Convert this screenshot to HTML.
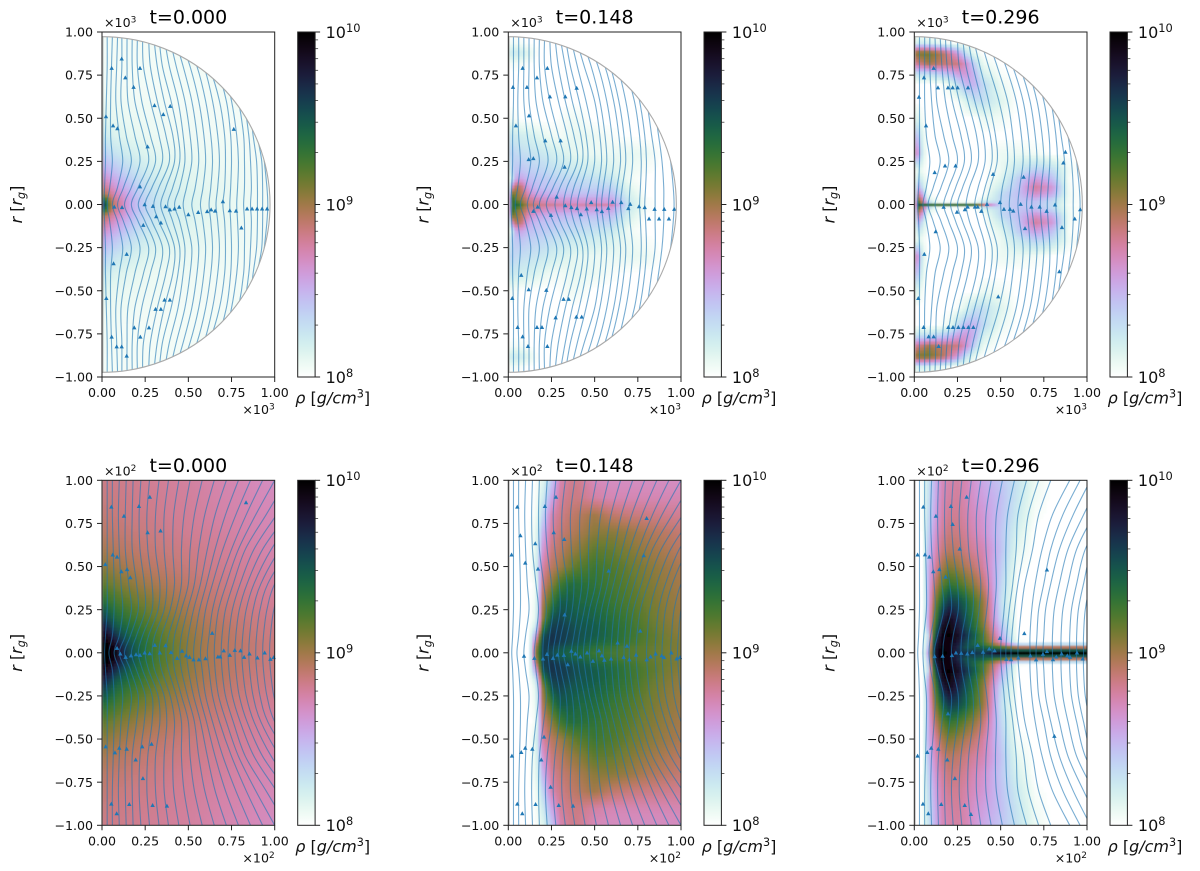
<!DOCTYPE html>
<html lang="en">
<head>
<meta charset="utf-8">
<title>Density panels</title>
<style>
html,body{margin:0;padding:0;background:#fff;}
svg{display:block;font-family:"DejaVu Sans","Liberation Sans",sans-serif;filter:blur(0.3px);}
</style>
</head>
<body>
<svg id="figure" xmlns="http://www.w3.org/2000/svg" width="1200" height="871" viewBox="0 0 1200 871">
<rect x="0" y="0" width="1200" height="871" fill="#fff"/>
<defs id="defs"><filter id="soft" x="-5%" y="-5%" width="110%" height="110%"><feGaussianBlur stdDeviation="0.7"/></filter></defs>
</svg>
<script>
// Tick values and labels
const xTickValues = [0, 0.25, 0.5, 0.75, 1];
const xTickLabels = ['0.00', '0.25', '0.50', '0.75', '1.00'];
const yTickValues = [-1, -0.75, -0.5, -0.25, 0, 0.25, 0.5, 0.75, 1];
const yTickLabels = ['\u22121.00', '\u22120.75', '\u22120.50', '\u22120.25', '0.00', '0.25', '0.50', '0.75', '1.00'];
const cbarDecades = [8, 9, 10];
const cbarMinorMultipliers = [2, 3, 4, 5, 6, 7, 8, 9];
const panelTimes = ['t=0.000', 't=0.148', 't=0.296'];
const rowExponents = ['3', '2'];

// Density grid coordinates (data units); upper half, mirrored about the midplane
const gridX = [0, .02, .05, .08, .12, .16, .2, .25, .3, .35, .4, .5, .6, .7, .8, .9, 1];
const gridYTop = [0, .012, .03, .06, .1, .15, .2, .3, .4, .5, .6, .7, .76, .82, .88, .94, 1];
const gridYBottom = [0, .03, .06, .1, .15, .2, .3, .4, .5, .6, .7, .8, .9, 1];

// Density: value n means log10(rho) = 8 + n/100
const rhoTop0 = [
[190,150,100,85,70,55,45,35,28,24,20,15,12,10,8,6,5],
[175,145,98,84,70,55,45,35,28,24,20,15,12,10,8,6,5],
[150,130,95,80,68,55,45,35,28,24,20,15,12,10,8,6,5],
[100,95,80,72,62,52,42,33,27,23,20,15,12,10,8,6,5],
[85,80,70,62,53,46,38,30,25,22,18,14,11,10,8,6,5],
[70,65,58,52,45,38,32,26,22,19,16,13,10,9,7,6,5],
[55,52,46,42,36,31,27,22,18,16,14,12,10,8,7,6,5],
[38,35,30,27,23,20,17,14,12,11,10,9,8,7,6,5,5],
[25,22,18,15,13,11,10,9,8,8,7,7,6,6,5,5,5],
[15,13,11,10,9,8,8,7,7,7,6,6,6,5,5,5,5],
[9,8,8,7,7,7,6,6,6,6,5,5,5,5,5,5,5],
[6,6,6,6,5,5,5,5,5,5,5,5,5,5,5,5,5],
[6,6,6,5,5,5,5,5,5,5,5,5,5,5,5,5,5],
[6,6,6,5,5,5,5,5,5,5,5,5,5,5,5,5,5],
[5,5,5,5,5,5,5,5,5,5,5,5,5,5,5,5,5],
[5,5,5,5,5,5,5,5,5,5,5,5,5,5,5,5,5],
[5,5,5,5,5,5,5,5,5,5,5,5,5,5,5,5,5]];
const rhoTop148 = [
[0,125,140,115,90,85,80,78,75,72,72,75,72,25,3,0,0],
[0,130,130,108,85,80,75,70,68,66,65,62,60,24,3,0,0],
[0,135,110,100,80,75,68,65,62,60,60,58,55,22,3,0,0],
[0,115,105,92,68,58,55,50,48,46,45,45,44,18,0,0,0],
[0,70,100,85,55,47,44,42,40,38,37,36,35,12,0,0,0],
[0,20,60,55,45,42,40,37,34,32,30,28,24,6,0,0,0],
[10,35,42,42,38,36,34,30,27,25,22,20,15,8,3,0,0],
[30,35,32,30,28,26,24,20,16,13,10,8,8,10,8,0,0],
[24,24,22,20,18,14,10,6,5,8,10,8,3,0,0,0,0],
[5,5,3,0,0,0,0,0,2,6,6,0,0,0,0,0,0],
[0,0,0,0,0,0,0,0,0,0,0,0,0,0,0,0,0],
[0,0,0,0,0,0,0,0,0,0,0,0,0,0,0,0,0],
[0,0,0,0,0,0,0,0,0,0,0,0,0,0,0,0,0],
[3,5,5,4,2,0,0,0,0,0,0,0,0,0,0,0,0],
[18,22,22,20,12,3,0,0,0,0,0,0,0,0,0,0,0],
[4,5,5,3,0,0,0,0,0,0,0,0,0,0,0,0,0],
[0,0,0,0,0,0,0,0,0,0,0,0,0,0,0,0,0]];
const rhoTop296 = [
[0,150,140,135,130,130,130,130,130,125,85,35,42,42,30,3,0],
[0,135,85,45,10,5,5,5,5,5,30,35,42,42,30,5,0],
[0,110,75,15,5,0,0,0,0,0,10,32,42,48,35,4,0],
[0,85,50,5,0,0,0,0,0,0,0,32,44,65,52,5,0],
[0,60,25,0,0,0,0,0,0,0,0,22,42,78,62,3,0],
[0,30,15,0,0,0,0,0,0,0,0,12,38,60,45,2,0],
[0,15,5,0,0,0,0,0,0,0,0,8,25,38,32,5,0],
[60,70,15,0,0,0,0,0,0,0,0,8,8,5,0,0,0],
[40,45,10,0,0,0,0,0,0,0,0,0,0,0,0,0,0],
[15,15,3,0,0,0,0,0,0,0,8,6,0,0,0,0,0],
[0,0,0,0,0,0,0,3,15,28,30,14,0,0,0,0,0],
[0,0,0,0,0,3,8,30,48,50,32,8,0,0,0,0,0],
[25,30,30,30,35,40,45,58,62,48,18,3,0,0,0,0,0],
[75,85,90,100,95,90,88,85,65,35,8,0,0,0,0,0,0],
[100,110,112,112,105,95,80,60,28,8,0,0,0,0,0,0,0],
[15,18,18,16,12,8,4,0,0,0,0,0,0,0,0,0,0],
[0,0,0,0,0,0,0,0,0,0,0,0,0,0,0,0,0]];
const rhoBottom0 = [
[200,200,198,190,170,155,145,135,127,120,115,105,98,93,90,87,85],
[200,200,196,188,168,154,144,134,126,120,115,105,98,93,90,87,85],
[198,198,192,180,162,150,142,133,125,119,114,105,98,93,90,87,85],
[190,188,178,165,152,143,137,130,123,117,112,104,97,93,89,86,84],
[175,172,162,150,142,136,131,125,119,114,110,102,96,92,88,85,83],
[160,157,148,140,134,129,125,120,115,110,107,100,94,90,87,84,82],
[135,133,128,124,120,117,113,110,107,103,100,95,90,87,84,81,79],
[118,116,113,111,108,106,103,100,98,96,94,90,87,84,81,79,77],
[106,105,103,101,99,97,95,93,91,90,88,86,83,81,79,77,75],
[98,97,95,94,92,91,90,88,87,86,85,83,81,79,77,75,73],
[92,91,90,89,88,87,86,85,84,83,82,80,79,77,75,73,72],
[88,88,87,86,85,84,83,83,82,81,80,79,77,75,74,72,71],
[85,85,85,84,83,83,82,81,81,80,79,78,76,74,73,71,70],
[83,83,83,82,82,81,81,80,79,79,78,77,75,73,72,70,68]];
const rhoBottom148 = [
[0,0,0,0,0,105,160,155,145,142,140,128,124,120,116,112,108],
[0,0,0,0,0,100,160,158,150,145,142,132,126,120,116,112,108],
[0,0,0,0,0,85,158,165,160,155,150,140,134,126,118,113,108],
[0,0,0,0,0,60,150,165,162,158,152,146,138,128,120,112,106],
[0,0,0,0,0,25,125,160,160,156,150,146,136,128,118,110,104],
[0,0,0,0,0,12,105,150,157,150,147,143,134,126,116,108,103],
[0,0,0,0,0,8,95,125,145,145,140,136,128,121,113,106,101],
[0,0,0,0,0,5,85,105,125,135,135,131,124,118,110,104,99],
[0,0,0,0,0,15,75,92,100,110,118,126,121,114,107,102,97],
[0,0,0,0,0,12,62,85,92,100,105,117,115,108,102,97,92],
[0,0,0,0,0,10,50,78,87,92,97,106,106,102,96,92,88],
[0,0,0,0,0,5,35,72,82,88,92,100,90,86,84,82,80],
[0,0,0,0,0,3,22,55,78,83,84,76,72,72,72,72,72],
[0,0,0,0,0,2,12,40,72,80,82,70,68,68,68,68,68]];
const rhoBottom296 = [
[0,0,3,55,180,200,195,170,165,165,160,190,200,200,200,200,200],
[0,0,0,45,178,198,192,170,150,150,145,130,110,110,110,110,110],
[0,0,0,38,170,196,194,178,155,138,122,70,5,0,0,0,0],
[0,0,0,30,150,195,198,185,165,145,120,55,0,0,0,0,0],
[0,0,0,50,130,185,195,178,155,135,110,45,0,0,0,0,0],
[0,0,0,55,118,170,188,172,150,130,105,35,0,0,0,0,0],
[0,0,0,50,105,140,160,155,140,122,103,30,0,0,0,0,0],
[0,0,0,50,90,115,130,125,113,103,88,35,0,0,0,0,0],
[0,0,0,50,75,98,108,103,95,88,76,40,4,0,0,0,0],
[0,0,0,42,68,85,92,90,84,77,72,44,10,0,0,0,0],
[0,0,2,35,62,78,85,84,78,71,65,42,16,0,0,0,0],
[0,0,2,30,56,74,80,80,74,68,62,44,22,3,0,0,0],
[0,0,3,27,52,72,76,78,72,64,58,45,25,6,0,0,0],
[0,0,3,25,50,70,74,76,72,62,54,42,27,8,0,0,0]];

// Streamlines: x at each height in the level arrays (upper half, mirrored)
const streamLevelsTop = [0, .1, .25, .4, .6, .8, .97];
const streamLevelsBottom = [0, .1, .25, .4, .6, .8, 1];
const linesTop0 = [
[.012,.015,.02,.02,.025,.03,.03],[.03,.045,.06,.05,.05,.055,.06],[.06,.09,.12,.10,.08,.085,.09],
[.09,.125,.17,.14,.11,.115,.115],[.13,.17,.22,.19,.15,.145,.145],[.17,.21,.27,.24,.19,.175,.175],
[.21,.25,.31,.28,.23,.205,.205],[.25,.29,.35,.33,.28,.24,.235],[.30,.33,.39,.37,.32,.28,.27],
[.34,.37,.42,.41,.36,.32,.30],[.38,.41,.45,.44,.40,.35,.33],[.42,.45,.48,.47,.44,.39,.36],
[.47,.49,.52,.51,.48,.43,.39],[.52,.54,.56,.55,.52,.47,.42],[.57,.585,.60,.59,.56,.51,.45],
[.62,.63,.64,.63,.60,.55,.48],[.66,.67,.68,.67,.64,.59,.51],[.70,.71,.715,.71,.68,.62,.54],
[.74,.745,.75,.745,.72,.66,.57],[.78,.785,.79,.78,.75,.70,.60],[.82,.825,.825,.82,.79,.74,.63],
[.86,.865,.86,.85,.82,.77,.66],[.90,.90,.895,.875,.85,.80,.69],[.93,.93,.925,.90,.88,.83,.72],
[.96,.955,.94,.925,.90,.86,.75]];
const linesTop148 = [
[.015,.02,.025,.025,.03,.03,.03],[.04,.055,.07,.06,.055,.06,.06],[.07,.10,.13,.11,.09,.09,.09],
[.11,.14,.18,.15,.12,.12,.12],[.145,.18,.23,.20,.16,.15,.15],[.18,.22,.28,.25,.20,.18,.18],
[.22,.26,.32,.29,.24,.21,.21],[.27,.30,.36,.34,.29,.25,.24],[.32,.34,.40,.38,.33,.29,.27],
[.36,.38,.43,.42,.37,.33,.30],[.40,.42,.46,.45,.41,.36,.33],[.45,.47,.50,.49,.45,.40,.36],
[.51,.52,.54,.53,.50,.44,.39],[.54,.55,.57,.56,.53,.48,.42],[.58,.59,.61,.60,.57,.52,.45],
[.62,.63,.65,.64,.61,.56,.49],[.65,.66,.68,.67,.64,.59,.52],[.70,.705,.72,.71,.68,.63,.55],
[.76,.765,.77,.76,.73,.67,.58],[.79,.795,.80,.79,.76,.71,.61],[.85,.85,.85,.83,.80,.75,.64],
[.90,.90,.89,.87,.84,.79,.68],[.96,.955,.94,.92,.89,.84,.73]];
const linesTop296 = [
[.02,.025,.03,.03,.03,.03,.03],[.05,.07,.09,.07,.06,.06,.06],[.08,.11,.15,.12,.10,.09,.09],
[.12,.155,.20,.17,.13,.125,.12],[.17,.20,.25,.22,.18,.16,.15],[.21,.24,.29,.27,.22,.19,.18],
[.25,.28,.33,.31,.26,.22,.21],[.30,.32,.37,.36,.31,.26,.25],[.35,.37,.41,.40,.35,.30,.28],
[.39,.41,.45,.44,.39,.34,.31],[.42,.44,.48,.47,.43,.38,.34],[.50,.51,.54,.53,.49,.43,.38],
[.55,.56,.58,.57,.54,.48,.42],[.60,.61,.63,.62,.59,.53,.46],[.65,.66,.67,.66,.63,.57,.50],
[.68,.69,.71,.70,.67,.61,.53],[.73,.735,.75,.74,.71,.65,.56],[.77,.775,.785,.78,.75,.69,.60],
[.82,.825,.83,.82,.79,.73,.63],[.87,.87,.87,.85,.82,.77,.67],[.92,.92,.91,.89,.86,.81,.71],
[.96,.955,.94,.925,.90,.85,.75]];
const linesBottom0 = [
[.015,.02,.03,.03,.03,.03,.03],[.04,.06,.07,.07,.065,.06,.06],[.07,.10,.12,.11,.10,.095,.10],
[.10,.135,.17,.155,.135,.135,.14],[.13,.165,.21,.20,.175,.175,.18],[.17,.20,.25,.245,.22,.215,.225],
[.21,.235,.29,.29,.265,.26,.275],[.25,.27,.325,.335,.31,.31,.33],[.29,.305,.36,.375,.36,.36,.385],
[.33,.345,.395,.42,.41,.415,.445],[.37,.385,.43,.46,.46,.475,.51],[.41,.42,.46,.50,.51,.535,.58],
[.45,.46,.495,.535,.56,.595,.65],[.49,.50,.53,.57,.61,.655,.72],[.53,.54,.565,.605,.655,.715,.79],
[.57,.58,.60,.64,.70,.775,.86],[.61,.62,.64,.68,.75,.835,.93],[.65,.655,.675,.72,.79,.89,1.0],
[.69,.695,.715,.76,.83,.95,1.07],[.73,.735,.755,.80,.88,1.01,1.14],[.77,.775,.795,.84,.93,1.07,1.2],
[.81,.815,.835,.88,.98,1.12,1.25],[.85,.855,.875,.92,1.03,1.18,1.3],[.89,.895,.915,.96,1.08,1.22,1.35],
[.93,.935,.955,1.0,1.12,1.27,1.4],[.97,.975,.995,1.04,1.17,1.32,1.45]];
const linesBottom148 = [
[.02,.025,.03,.03,.03,.03,.03],[.05,.06,.07,.07,.065,.06,.06],[.09,.10,.12,.11,.10,.095,.10],
[.15,.16,.175,.16,.14,.135,.14],[.20,.205,.22,.205,.18,.175,.18],[.23,.24,.26,.25,.225,.215,.225],
[.26,.275,.30,.295,.27,.26,.275],[.29,.305,.335,.34,.315,.31,.33],[.32,.34,.37,.38,.365,.36,.385],
[.365,.38,.405,.425,.415,.415,.445],[.40,.41,.44,.465,.465,.475,.51],[.435,.445,.47,.505,.515,.535,.58],
[.47,.48,.505,.54,.565,.595,.65],[.51,.52,.54,.575,.615,.655,.72],[.55,.56,.575,.61,.66,.715,.79],
[.595,.60,.615,.65,.705,.775,.86],[.63,.635,.65,.69,.755,.835,.93],[.67,.675,.69,.73,.795,.89,1.0],
[.70,.705,.725,.77,.835,.95,1.07],[.74,.745,.765,.81,.885,1.01,1.14],[.80,.805,.82,.86,.94,1.07,1.2],
[.85,.855,.87,.91,.99,1.12,1.25],[.89,.895,.91,.95,1.04,1.18,1.3],[.94,.945,.96,1.0,1.09,1.22,1.35],
[.98,.985,1.0,1.04,1.14,1.27,1.4]];
const linesBottom296 = [
[.02,.025,.03,.03,.03,.03,.03],[.05,.055,.07,.07,.065,.06,.06],[.085,.095,.12,.115,.10,.095,.10],
[.115,.135,.17,.16,.14,.135,.14],[.165,.175,.215,.205,.18,.175,.18],[.215,.225,.255,.25,.225,.215,.225],
[.27,.275,.30,.295,.27,.26,.275],[.31,.315,.34,.34,.315,.31,.33],[.35,.355,.375,.385,.365,.36,.385],
[.40,.40,.42,.43,.415,.415,.445],[.45,.455,.465,.475,.47,.475,.51],[.50,.505,.52,.53,.53,.54,.58],
[.53,.535,.55,.57,.59,.60,.65],[.56,.565,.58,.60,.635,.66,.72],[.60,.605,.62,.64,.685,.72,.79],
[.67,.67,.68,.70,.74,.80,.90],[.705,.71,.72,.75,.79,.86,.96],[.745,.75,.76,.79,.84,.92,1.02],
[.80,.80,.81,.84,.89,.98,1.08],[.85,.85,.86,.89,.94,1.04,1.16],[.90,.90,.91,.94,.99,1.10,1.22],
[.94,.94,.95,.98,1.03,1.15,1.28],[.98,.98,.99,1.02,1.08,1.2,1.33]];

// Streamline arrowheads: [x, y] in data units
const arrowsTop0 = [[.056,.79],[.114,.845],[.135,.735],[.22,.79],[.183,.68],[.023,.51],[.064,.457],[.089,.44],[.304,.574],[.395,.57],[.355,.522],[.264,.335],[.763,.437],[.22,.103],[.247,0],[.071,-.014],[.116,-.017],[.295,-.01],[.368,-.012],[.393,-.03],[.42,-.025],[.447,-.015],[.314,-.07],[.341,-.106],[.239,-.12],[.5,-.058],[.557,-.045],[.609,-.04],[.632,-.03],[.655,-.037],[.70,.017],[.74,-.035],[.776,-.037],[.807,-.135],[.84,-.025],[.869,-.025],[.898,-.025],[.927,-.025],[.956,-.025],[.143,-.288],[.067,-.342],[.025,-.544],[.362,-.553],[.393,-.553],[.31,-.607],[.341,-.607],[.187,-.714],[.272,-.714],[.056,-.768],[.222,-.768],[.085,-.824],[.114,-.824],[.143,-.878]];
const arrowsTop148 = [[.083,.79],[.226,.79],[.166,.735],[.027,.68],[.108,.68],[.396,.675],[.241,.625],[.33,.625],[.12,.515],[.044,.457],[.214,.37],[.303,.37],[.118,.261],[.145,.267],[.326,.217],[.28,.044],[.48,.012],[.604,.014],[.654,.012],[.706,.002],[.695,-.023],[.145,-.039],[.17,-.014],[.33,-.006],[.365,-.017],[.398,-.023],[.454,-.025],[.512,-.029],[.542,-.04],[.579,-.021],[.757,-.012],[.79,-.017],[.847,-.027],[.903,-.027],[.961,-.027],[.815,-.083],[.873,-.083],[.93,-.083],[.247,-.062],[.42,-.058],[.075,-.41],[.118,-.493],[.22,-.497],[.023,-.544],[.32,-.549],[.35,-.549],[.274,-.656],[.394,-.652],[.425,-.652],[.054,-.712],[.166,-.712],[.195,-.712],[.083,-.766],[.114,-.822],[.226,-.822]];
const arrowsTop296 = [[.112,.79],[.056,.735],[.137,.677],[.195,.677],[.222,.677],[.251,.677],[.311,.677],[.027,.623],[.068,.457],[.875,.304],[.863,.242],[.178,.224],[.239,.224],[.118,.186],[.456,.176],[.633,.159],[.421,.002],[.496,.012],[.616,.002],[.815,-.002],[.17,-.015],[.309,-.014],[.293,-.029],[.247,-.044],[.351,-.014],[.367,-.014],[.388,-.039],[.519,-.027],[.554,-.027],[.573,-.037],[.678,-.014],[.726,-.014],[.766,-.039],[.961,-.029],[.929,-.083],[.855,-.133],[.641,-.139],[.124,-.157],[.058,-.288],[.84,-.389],[.023,-.544],[.486,-.534],[.054,-.712],[.197,-.712],[.224,-.712],[.255,-.712],[.284,-.712],[.313,-.712],[.342,-.712],[.083,-.766],[.112,-.766],[.141,-.822]];
const arrowsBottom0 = [[.054,.846],[.127,.793],[.214,.849],[.277,.903],[.834,.871],[.264,.697],[.339,.707],[.062,.568],[.087,.556],[.019,.512],[.145,.483],[.112,.471],[.164,.436],[.638,.114],[.087,.027],[.106,-.006],[.137,-.025],[.168,-.017],[.197,-.01],[.22,-.014],[.247,0],[.276,-.004],[.306,.044],[.335,0],[.368,.042],[.399,.002],[.435,-.031],[.464,.01],[.487,-.017],[.507,-.025],[.53,-.04],[.561,-.04],[.599,-.033],[.671,-.023],[.684,-.023],[.705,.012],[.74,-.014],[.769,.015],[.802,.012],[.823,-.025],[.854,-.006],[.9,-.029],[.942,0],[.975,-.037],[.994,-.027],[.021,-.544],[.075,-.579],[.1,-.552],[.143,-.558],[.233,-.544],[.287,-.529],[.195,-.62],[.237,-.728],[.054,-.876],[.085,-.932],[.158,-.878],[.293,-.884],[.376,-.888]];
const arrowsBottom148 = [[.052,.846],[.212,.849],[.276,.903],[.07,.68],[.156,.633],[.263,.697],[.324,.658],[.801,.78],[.784,.564],[.019,.568],[.098,.521],[.172,.486],[.581,.475],[.326,.22],[.764,.127],[.633,.058],[.687,.039],[.091,-.019],[.151,-.031],[.201,-.035],[.224,-.008],[.259,-.031],[.284,-.012],[.322,-.014],[.344,-.068],[.365,.01],[.388,-.006],[.417,-.023],[.456,0],[.49,-.048],[.525,.012],[.542,-.017],[.556,-.042],[.595,-.035],[.668,-.025],[.701,-.04],[.74,-.012],[.801,-.04],[.824,-.023],[.853,-.006],[.888,-.017],[.902,-.027],[.944,0],[.975,-.035],[.994,-.027],[.207,-.488],[.098,-.552],[.139,-.558],[.075,-.577],[.021,-.598],[.191,-.62],[.245,-.778],[.052,-.876],[.081,-.932],[.158,-.878],[.292,-.884],[.375,-.888]];
const arrowsBottom296 = [[.052,.846],[.212,.849],[.303,.903],[.125,.793],[.222,.745],[.263,.602],[.019,.568],[.062,.569],[.087,.556],[.11,.471],[.145,.483],[.181,.44],[.768,.481],[.637,.112],[.496,.085],[.367,.044],[.434,.023],[.465,.012],[.118,-.021],[.164,-.019],[.218,-.015],[.241,0],[.272,-.002],[.307,-.006],[.336,.002],[.398,.004],[.533,-.037],[.56,-.039],[.602,-.029],[.672,-.017],[.705,-.04],[.745,-.008],[.768,.008],[.803,-.039],[.822,-.023],[.853,-.006],[.886,-.017],[.902,-.025],[.942,0],[.975,-.035],[.195,-.353],[.811,-.483],[.098,-.552],[.139,-.558],[.075,-.577],[.019,-.598],[.191,-.62],[.235,-.728],[.05,-.876],[.081,-.932],[.156,-.878],[.292,-.884],[.328,-.936]];

const rhoRows = [[rhoTop0, rhoTop148, rhoTop296], [rhoBottom0, rhoBottom148, rhoBottom296]];
const lineRows = [[linesTop0, linesTop148, linesTop296], [linesBottom0, linesBottom148, linesBottom296]];
const arrowRows = [[arrowsTop0, arrowsTop148, arrowsTop296], [arrowsBottom0, arrowsBottom148, arrowsBottom296]];

// Layout
const NS = 'http://www.w3.org/2000/svg';
const fig = document.getElementById('figure');
const defs = document.getElementById('defs');
const colLeft = [102, 508.3, 914.3];
const rowTop = [32, 480.3];
const AXW = 172.7, AXH = 345;
const CELL = 3;
const DOMAIN_R = 0.973;

function svg(tag, attrs, parent, text) {
  const e = document.createElementNS(NS, tag);
  for (const k in attrs) e.setAttribute(k, attrs[k]);
  if (text !== undefined) e.textContent = text;
  (parent || fig).appendChild(e);
  return e;
}

// cubehelix_r colormap over log10(rho) in hundredths above 8
function cmap(n) {
  const f = 1 - Math.min(1, Math.max(0, n / 200));
  const a = f * (1 - f) / 2;
  const phi = 2 * Math.PI * (0.5 / 3 - 1.5 * f);
  const c = Math.cos(phi), s = Math.sin(phi);
  const r = f + a * (-0.14861 * c + 1.78277 * s);
  const g = f + a * (-0.29227 * c - 0.90649 * s);
  const b = f + a * (1.97294 * c);
  const h = v => Math.round(255 * Math.min(1, Math.max(0, v)));
  return 'rgb(' + h(r) + ',' + h(g) + ',' + h(b) + ')';
}

function locate(grid, v) {
  let i = 0;
  while (i < grid.length - 2 && v > grid[i + 1]) i++;
  const t = Math.min(1, Math.max(0, (v - grid[i]) / (grid[i + 1] - grid[i])));
  return [i, t];
}

function sample(rows, gy, x, y) {
  const [i, tx] = locate(gridX, x);
  const [j, ty] = locate(gy, Math.abs(y));
  const a = rows[j][i] * (1 - tx) + rows[j][i + 1] * tx;
  const b = rows[j + 1][i] * (1 - tx) + rows[j + 1][i + 1] * tx;
  return a * (1 - ty) + b * ty;
}

function smoothPath(pts) {
  let d = 'M' + pts[0][0].toFixed(2) + ' ' + pts[0][1].toFixed(2);
  for (let i = 0; i < pts.length - 1; i++) {
    const p0 = pts[Math.max(0, i - 1)], p1 = pts[i], p2 = pts[i + 1], p3 = pts[Math.min(pts.length - 1, i + 2)];
    d += 'C' + (p1[0] + (p2[0] - p0[0]) / 6).toFixed(2) + ' ' + (p1[1] + (p2[1] - p0[1]) / 6).toFixed(2) + ' ' +
         (p2[0] - (p3[0] - p1[0]) / 6).toFixed(2) + ' ' + (p2[1] - (p3[1] - p1[1]) / 6).toFixed(2) + ' ' +
         p2[0].toFixed(2) + ' ' + p2[1].toFixed(2);
  }
  return d;
}

// Colorbar gradient
const grad = svg('linearGradient', {id: 'cbarGrad', x1: 0, y1: 1, x2: 0, y2: 0}, defs);
for (let i = 0; i <= 40; i++) {
  svg('stop', {offset: (i / 40), 'stop-color': cmap(i * 5)}, grad);
}

function drawPanel(row, col) {
  const left = colLeft[col], top = rowTop[row];
  const xs = d => left + d * AXW;
  const ys = d => top + (1 - d) / 2 * AXH;
  const isTop = row === 0;
  const gy = isTop ? gridYTop : gridYBottom;
  const rows = rhoRows[row][col];
  const id = 'p' + row + col;

  const panel = svg('g', {});
  
  

  // Clip: full axes on the bottom row, half disc on the top row
  const clip = svg('clipPath', {id: 'clip' + id}, defs);
  if (isTop) {
    svg('path', {d: 'M' + xs(0) + ' ' + ys(DOMAIN_R) + 'A' + (DOMAIN_R * AXW) + ' ' + (DOMAIN_R * AXH / 2) + ' 0 0 1 ' + xs(0) + ' ' + ys(-DOMAIN_R) + 'Z'}, clip);
  } else {
    svg('rect', {x: left, y: top, width: AXW, height: AXH}, clip);
  }

  // Heatmap cells
  const clipped = svg('g', {'clip-path': 'url(#clip' + id + ')'}, panel);
  const heat = svg('g', {filter: 'url(#soft)'}, clipped);
  
  
  const nx = Math.ceil(AXW / CELL), half = Math.ceil(AXH / 2 / CELL);
  for (let j = -half; j <= half; j++) {
    const yd = j * CELL / (AXH / 2);
    for (let i = 0; i < nx; i++) {
      const xd = (i + 0.5) * CELL / AXW;
      if (isTop && xd * xd + yd * yd > 1.02) continue;
      const v = sample(rows, gy, xd, yd);
      if (v < 1.5) continue;
      const cell = svg('rect', {
        x: (xs(xd) - CELL / 2).toFixed(2),
        y: (ys(yd) - CELL / 2).toFixed(2),
        width: CELL + 0.4,
        height: CELL + 0.4,
        fill: cmap(v)
      }, heat);
      
      
    }
  }

  // Inner boundary strip
  const strip = svg('line', {x1: xs(0) + 1, x2: xs(0) + 1, y1: top, y2: top + AXH, stroke: '#999', 'stroke-width': 1.4, 'stroke-opacity': (!isTop && col === 0) ? 0.15 : 0.45}, clipped);
  
  

  // Streamlines
  const levels = isTop ? streamLevelsTop : streamLevelsBottom;
  const lineGroup = svg('g', {fill: 'none', stroke: '#1f77b4', 'stroke-width': 1.1, 'stroke-opacity': 0.6}, clipped);
  lineRows[row][col].forEach(line => {
    const pts = [];
    for (let k = levels.length - 1; k > 0; k--) pts.push([xs(line[k]), ys(-levels[k])]);
    for (let k = 0; k < levels.length; k++) pts.push([xs(line[k]), ys(levels[k])]);
    const path = svg('path', {d: smoothPath(pts)}, lineGroup);
    
    
  });

  // Arrowheads
  arrowRows[row][col].forEach(a => {
    const ax = xs(a[0]), ay = ys(a[1]);
    const tri = svg('polygon', {points: (ax - 2.2) + ',' + (ay + 1.7) + ' ' + (ax + 2.2) + ',' + (ay + 1.7) + ' ' + ax + ',' + (ay - 2.3), fill: '#1f77b4'}, panel);
    
    
  });

  // Domain boundary arc
  if (isTop) {
    const arc = svg('path', {d: 'M' + xs(0) + ' ' + ys(DOMAIN_R) + 'A' + (DOMAIN_R * AXW) + ' ' + (DOMAIN_R * AXH / 2) + ' 0 0 1 ' + xs(0) + ' ' + ys(-DOMAIN_R), fill: 'none', stroke: '#aaa', 'stroke-width': 1.1}, panel);
    
    
  }

  // Axes frame
  const frame = svg('rect', {x: left, y: top, width: AXW, height: AXH, fill: 'none', stroke: '#222', 'stroke-width': 1}, panel);
  
  

  // X ticks
  xTickValues.forEach((v, i) => {
    const tick = svg('line', {x1: xs(v), x2: xs(v), y1: top + AXH, y2: top + AXH + 5, stroke: '#222', 'stroke-width': 1}, panel);
    
    
    const label = svg('text', {x: xs(v), y: top + AXH + 20, 'text-anchor': 'middle', 'font-size': 12.6, fill: '#111'}, panel, xTickLabels[i]);
    
    
  });

  // Y ticks
  yTickValues.forEach((v, i) => {
    const tick = svg('line', {x1: left - 5, x2: left, y1: ys(v), y2: ys(v), stroke: '#222', 'stroke-width': 1}, panel);
    
    
    const label = svg('text', {x: left - 9, y: ys(v) + 4.6, 'text-anchor': 'end', 'font-size': 12.6, fill: '#111'}, panel, yTickLabels[i]);
    
    
  });

  // Offset text
  const addOffset = (x, y, anchor, name) => {
    const t = svg('text', {x: x, y: y, 'text-anchor': anchor, 'font-size': 12.6, fill: '#111'}, panel);
    
    
    svg('tspan', {}, t, '\u00d710');
    svg('tspan', {dy: -4.5, 'font-size': 9}, t, rowExponents[row]);
  };
  addOffset(left + 2, top - 5, 'start', 'y-offset-text');
  addOffset(left + AXW, top + AXH + 37, 'end', 'x-offset-text');

  // Title
  const title = svg('text', {x: left + AXW / 2, y: top - 8.5, 'text-anchor': 'middle', 'font-size': 19, fill: '#000'}, panel, panelTimes[col]);
  
  

  // Y axis title
  const cy = top + AXH / 2, cx = left - 80;
  const yTitle = svg('text', {x: cx, y: cy, transform: 'rotate(-90 ' + cx + ' ' + cy + ')', 'text-anchor': 'middle', 'font-size': 16, fill: '#111'}, panel);
  
  
  svg('tspan', {'font-style': 'italic'}, yTitle, 'r');
  svg('tspan', {}, yTitle, ' [');
  svg('tspan', {'font-style': 'italic'}, yTitle, 'r');
  svg('tspan', {'font-style': 'italic', 'font-size': 11.2, dy: 3}, yTitle, 'g');
  svg('tspan', {dy: -3}, yTitle, ']');

  // Colorbar
  const cbLeft = left + 195.7, cbW = 17.4;
  const cy10 = v => top + AXH - (v - 8) / 2 * AXH;
  const bar = svg('rect', {x: cbLeft, y: top, width: cbW, height: AXH, fill: 'url(#cbarGrad)', stroke: '#222', 'stroke-width': 1}, panel);
  
  
  cbarDecades.forEach(d => {
    const tick = svg('line', {x1: cbLeft + cbW, x2: cbLeft + cbW + 5, y1: cy10(d), y2: cy10(d), stroke: '#222', 'stroke-width': 1}, panel);
    
    
    const label = svg('text', {x: cbLeft + cbW + 10.5, y: cy10(d) + 5.8, 'font-size': 16, fill: '#111'}, panel);
    
    
    svg('tspan', {}, label, '10');
    svg('tspan', {dy: -6, 'font-size': 11.4}, label, String(d));
    if (d < 10) {
      cbarMinorMultipliers.forEach(m => {
        const pos = cy10(d + Math.log10(m));
        const minor = svg('line', {x1: cbLeft + cbW, x2: cbLeft + cbW + 3, y1: pos, y2: pos, stroke: '#222', 'stroke-width': 0.7}, panel);
        
        
      });
    }
  });
  const cbLabel = svg('text', {x: cbLeft + 35, y: top + AXH + 26.5, 'text-anchor': 'middle', 'font-size': 16, fill: '#111'}, panel);
  
  
  svg('tspan', {'font-style': 'italic'}, cbLabel, '\u03c1');
  svg('tspan', {}, cbLabel, ' [');
  svg('tspan', {'font-style': 'italic'}, cbLabel, 'g/cm');
  svg('tspan', {dy: -6, 'font-size': 11.2}, cbLabel, '3');
  svg('tspan', {dy: 6}, cbLabel, ']');
}

for (let r = 0; r < 2; r++) {
  for (let c = 0; c < 3; c++) drawPanel(r, c);
}
</script>
</body>
</html>
